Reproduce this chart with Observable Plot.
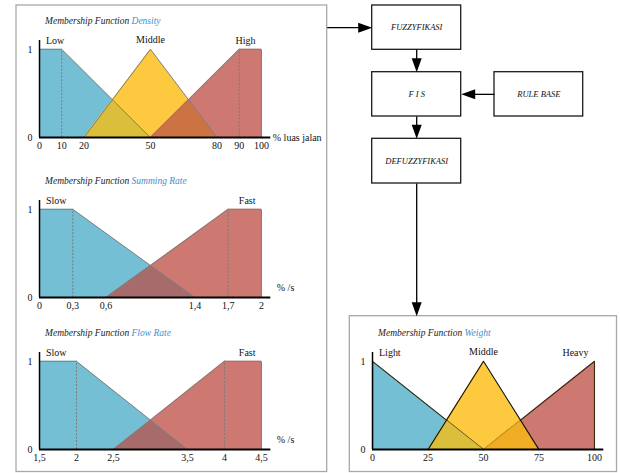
<!DOCTYPE html>
<html><head><meta charset="utf-8">
<script src="https://cdn.jsdelivr.net/npm/d3@7"></script>
<script src="https://cdn.jsdelivr.net/npm/@observablehq/plot@0.6"></script>
<style>
html,body{margin:0;padding:0;background:#fff;}
#root{position:relative;width:620px;height:473px;overflow:hidden;font-family:"Liberation Serif",serif;background:#fff;}
#root svg, #root svg text{font-family:"Liberation Serif",serif !important;}
#root svg{max-width:none !important;}
.layer{position:absolute;}
.title{position:absolute;font-style:italic;font-size:9.5px;line-height:1;white-space:nowrap;color:#222;}
.title span{color:#3d8fd6;}
</style></head><body><div id="root"></div>
<script>
// ---------------- DATA ----------------
const densityTicks = [0, 10, 20, 50, 80, 90, 100];
const densitySets = [
  {name: "Low",    x: [0, 10, 50],   mu: [1, 1, 0]},
  {name: "Middle", x: [20, 50, 80],  mu: [0, 1, 0]},
  {name: "High",   x: [50, 90, 100], mu: [0, 1, 1]}
];
const densityCore = [10, 90];

const summingTicks = [0, 0.3, 0.6, 1.4, 1.7, 2];
const summingSets = [
  {name: "Slow", x: [0, 0.3, 1.4], mu: [1, 1, 0]},
  {name: "Fast", x: [0.6, 1.7, 2], mu: [0, 1, 1]}
];
const summingCore = [0.3, 1.7];

const flowTicks = [1.5, 2, 2.5, 3.5, 4, 4.5];
const flowSets = [
  {name: "Slow", x: [1.5, 2, 3.5], mu: [1, 1, 0]},
  {name: "Fast", x: [2.5, 4, 4.5], mu: [0, 1, 1]}
];
const flowCore = [2, 4];

const weightTicks = [0, 25, 50, 75, 100];
const weightSets = [
  {name: "Light",  x: [0, 50],      mu: [1, 0]},
  {name: "Middle", x: [25, 50, 75], mu: [0, 1, 0]},
  {name: "Heavy",  x: [50, 100],    mu: [0, 1]}
];

const stepNames = ["FUZZYFIKASI", "F I S", "RULE BASE", "DEFUZZYFIKASI"];
const links = [
  ["input", "FUZZYFIKASI"],
  ["FUZZYFIKASI", "F I S"],
  ["RULE BASE", "F I S"],
  ["F I S", "DEFUZZYFIKASI"],
  ["DEFUZZYFIKASI", "output"]
];

// ---------------- LAYOUT / STYLE ----------------
const SERIF = "Liberation Serif";
const C = {blue: "#74bfd4", yellow: "#fdca3f", red: "#cd7871",
           olive: "#dbbf3a", orange: "#cd7243", amber: "#f0ac25", mauve: "#a86b6b"};
const L = {
  frames: {input: {x1: 16, x2: 326.7, y1: 5, y2: 471.5}, output: {x1: 349.3, x2: 616.5, y1: 315.7, y2: 471.5}},
  boxes: {
    "FUZZYFIKASI":   {x1: 371.7, x2: 460.7, y1: 5,     y2: 49.3},
    "F I S":         {x1: 371.7, x2: 460.7, y1: 71.7,  y2: 116},
    "RULE BASE":     {x1: 494,   x2: 582.7, y1: 71.7,  y2: 116},
    "DEFUZZYFIKASI": {x1: 371.7, x2: 460.7, y1: 138.3, y2: 183}
  },
  plotW: 222, plotH: 88.3, ml: 40, mr: 80, mt: 45, mb: 22,
  headLen: 14, headHalf: 5
};

const root = document.getElementById("root");
const fmt = d => String(d).replace(".", ",");

// ---------------- helpers ----------------
function mu(s, x) {
  const xs = s.x, ys = s.mu, n = xs.length;
  if (x < xs[0] || x > xs[n - 1]) return 0;
  for (let i = 0; i < n - 1; i++) {
    if (x >= xs[i] && x <= xs[i + 1]) {
      if (xs[i + 1] === xs[i]) return ys[i];
      return ys[i] + (ys[i + 1] - ys[i]) * (x - xs[i]) / (xs[i + 1] - xs[i]);
    }
  }
  return ys[n - 1];
}
const pts = s => s.x.map((x, i) => ({x, y: s.mu[i]}));
const outlinePts = s => [{x: s.x[0], y: 0}, ...pts(s), {x: s.x[s.x.length - 1], y: 0}];
function overlapPts(a, b) {
  const lo = Math.max(a.x[0], b.x[0]), hi = Math.min(a.x[a.x.length - 1], b.x[b.x.length - 1]);
  if (hi <= lo) return [];
  const xs = Array.from(new Set([lo, hi, ...a.x, ...b.x])).filter(x => x >= lo && x <= hi).sort((p, q) => p - q);
  const out = [];
  for (let i = 0; i < xs.length; i++) {
    const x = xs[i];
    out.push(x);
    if (i < xs.length - 1) {
      const x2 = xs[i + 1];
      const d1 = mu(a, x) - mu(b, x), d2 = mu(a, x2) - mu(b, x2);
      if (d1 * d2 < 0) out.push(x + (x2 - x) * d1 / (d1 - d2));
    }
  }
  return out.map(x => ({x, y: Math.min(mu(a, x), mu(b, x))}));
}

function mfChart(cfg) {
  const {sets, ticks, core, fills, overlaps, unit, unitDx, unitDy, stroke, topSet} = cfg;
  const order = cfg.order || sets.map((_, i) => i);
  const xmin = ticks[0], xmax = ticks[ticks.length - 1];
  const ext = xmax + (xmax - xmin) * 0.042;
  const innerW = L.plotW * 1.042, innerH = L.plotH * 1.1;
  const marks = [];
  order.forEach(i => marks.push(Plot.areaY(pts(sets[i]), {x: "x", y: "y", fill: fills[i]})));
  if (topSet != null) order.forEach(i => { if (i !== topSet) marks.push(Plot.line(outlinePts(sets[i]), {x: "x", y: "y", stroke, strokeWidth: 1.1})); });
  overlaps.forEach(([i, j, col]) => marks.push(Plot.areaY(overlapPts(sets[i], sets[j]), {x: "x", y: "y", fill: col})));
  if (core.length) marks.push(Plot.ruleX(core, {y1: 0, y2: 1, stroke: "#7a7a7a", strokeDasharray: "2,1.5", strokeWidth: 1}));
  order.forEach(i => {
    const s = sets[i];
    if (topSet == null) marks.push(Plot.line(outlinePts(s), {x: "x", y: "y", stroke, strokeWidth: 1}));
    else if (i !== topSet) marks.push(Plot.line(outlinePts(s), {x: "x", y: "y", stroke: "#8a6a10", strokeOpacity: 0.35, strokeWidth: 1}));
  });
  if (topSet != null) marks.push(Plot.line(outlinePts(sets[topSet]), {x: "x", y: "y", stroke, strokeWidth: 1.1}));
  marks.push(Plot.ruleY([0], {stroke: "#000", strokeWidth: 2}));
  marks.push(Plot.ruleX([xmin], {stroke: "#000", strokeWidth: 1.5}));
  // set labels
  const first = sets[0], last = sets[sets.length - 1];
  marks.push(Plot.text([{x: xmin, y: 1, t: first.name}], {x: "x", y: "y", text: "t", textAnchor: "start", dx: 6.5, dy: -5, lineAnchor: "bottom"}));
  marks.push(Plot.text([{x: xmax, y: 1, t: last.name}], {x: "x", y: "y", text: "t", textAnchor: "end", dx: -6, dy: -5, lineAnchor: "bottom"}));
  sets.slice(1, -1).forEach(s => marks.push(Plot.text([{x: s.x[s.mu.indexOf(1)], y: 1, t: s.name}], {x: "x", y: "y", text: "t", textAnchor: "middle", dy: -6, lineAnchor: "bottom"})));
  if (unit) marks.push(Plot.text([unit], {text: d => d, frameAnchor: "bottom-right", textAnchor: "start", dx: unitDx, dy: unitDy, lineAnchor: "middle"}));
  return Plot.plot({
    width: L.ml + innerW + L.mr, height: L.mt + innerH + L.mb,
    marginLeft: L.ml, marginRight: L.mr, marginTop: L.mt, marginBottom: L.mb,
    style: {background: "transparent", overflow: "visible", maxWidth: "none", fontFamily: SERIF, fontSize: "10px", color: "#111"},
    x: {domain: [xmin, ext], ticks, tickSize: 0, tickPadding: 4, tickFormat: fmt, label: null},
    y: {domain: [0, 1.1], ticks: [0, 1], tickSize: 0, tickPadding: 7, tickFormat: d => String(d), label: null},
    marks
  });
}

function place(el, left, top) {
  const d = document.createElement("div");
  d.className = "layer"; d.style.left = left + "px"; d.style.top = top + "px";
  d.style.width = el.getAttribute("width") + "px";
  d.appendChild(el); root.appendChild(d);
}
function title(word, left, top) {
  const d = document.createElement("div");
  d.className = "title"; d.style.left = left + "px"; d.style.top = top + "px";
  d.innerHTML = "Membership Function <span>" + word + "</span>";
  root.appendChild(d);
}

// ---------------- FLOWCHART (background) ----------------
const nodes = Object.assign({}, L.frames, L.boxes);
const boxList = stepNames.map(n => Object.assign({name: n}, L.boxes[n]));
const frameList = Object.values(L.frames);
const shafts = [], heads = [];
links.forEach(([s, t], k) => {
  const a = nodes[s], b = nodes[t];
  let x1, y1, x2, y2;
  if (b.x1 >= a.x2) { y1 = y2 = (b.y1 + b.y2) / 2; x1 = a.x2; x2 = b.x1; }
  else if (a.x1 >= b.x2) { y1 = y2 = (a.y1 + a.y2) / 2; x1 = a.x1; x2 = b.x2; }
  else { x1 = x2 = (a.x1 + a.x2) / 2; y1 = a.y2; y2 = b.y1; }
  const len = Math.hypot(x2 - x1, y2 - y1), ux = (x2 - x1) / len, uy = (y2 - y1) / len;
  const bx = x2 - ux * L.headLen, by = y2 - uy * L.headLen;
  shafts.push({x1, y1, x2: bx + ux, y2: by + uy});
  heads.push({id: k, x: x2, y: y2}, {id: k, x: bx - uy * L.headHalf, y: by + ux * L.headHalf}, {id: k, x: bx + uy * L.headHalf, y: by - ux * L.headHalf});
});

place(Plot.plot({
  width: 620, height: 473, margin: 0,
  x: {domain: [0, 620], range: [0, 620], axis: null},
  y: {domain: [0, 473], range: [0, 473], axis: null},
  style: {background: "transparent", overflow: "visible", maxWidth: "none", fontFamily: SERIF},
  marks: [
    Plot.rect(frameList, {x1: "x1", x2: "x2", y1: "y1", y2: "y2", fill: "none", stroke: "#a8a8a8", strokeWidth: 1.3}),
    Plot.rect(boxList, {x1: "x1", x2: "x2", y1: "y1", y2: "y2", fill: "white", stroke: "#1a1a1a", strokeWidth: 1.3}),
    Plot.text(boxList, {x: d => (d.x1 + d.x2) / 2, y: d => (d.y1 + d.y2) / 2, text: "name", fontStyle: "italic", fontSize: 8.5, fill: "#111"}),
    Plot.link(shafts, {x1: "x1", y1: "y1", x2: "x2", y2: "y2", stroke: "#000", strokeWidth: 1.3}),
    Plot.line(heads, {x: "x", y: "y", z: "id", fill: "#000", stroke: "none"})
  ]
}), 0, 0);

// ---------------- MEMBERSHIP CHARTS ----------------
const innerH = L.plotH * 1.1;
const panels = [
  {x0: 38.7, y0: 137.3, tl: 45, tt: 16.5, word: "Density",
   cfg: {sets: densitySets, ticks: densityTicks, core: densityCore, fills: [C.blue, C.yellow, C.red],
         overlaps: [[0, 1, C.olive], [1, 2, C.orange]], unit: "% luas jalan", unitDx: 2, unitDy: 0.5, stroke: "#7d7d7d"}},
  {x0: 38.7, y0: 296.7, tl: 45, tt: 176.5, word: "Summing Rate",
   cfg: {sets: summingSets, ticks: summingTicks, core: summingCore, fills: [C.blue, C.red],
         overlaps: [[0, 1, C.mauve]], unit: "% /s", unitDx: 6, unitDy: -10, stroke: "#7d7d7d"}},
  {x0: 38.7, y0: 449.3, tl: 45, tt: 329, word: "Flow Rate",
   cfg: {sets: flowSets, ticks: flowTicks, core: flowCore, fills: [C.blue, C.red],
         overlaps: [[0, 1, C.mauve]], unit: "% /s", unitDx: 6, unitDy: -10, stroke: "#7d7d7d"}},
  {x0: 371.7, y0: 449.3, tl: 378, tt: 328.5, word: "Weight",
   cfg: {sets: weightSets, ticks: weightTicks, core: [], fills: [C.blue, C.yellow, C.red], order: [0, 2, 1],
         overlaps: [[0, 1, C.olive], [1, 2, C.amber]], unit: null, stroke: "#111", topSet: 1}}
];

panels.forEach(p => {
  place(mfChart(p.cfg), p.x0 - L.ml, p.y0 - L.mt - innerH);
  title(p.word, p.tl, p.tt);
});
</script></body></html>
